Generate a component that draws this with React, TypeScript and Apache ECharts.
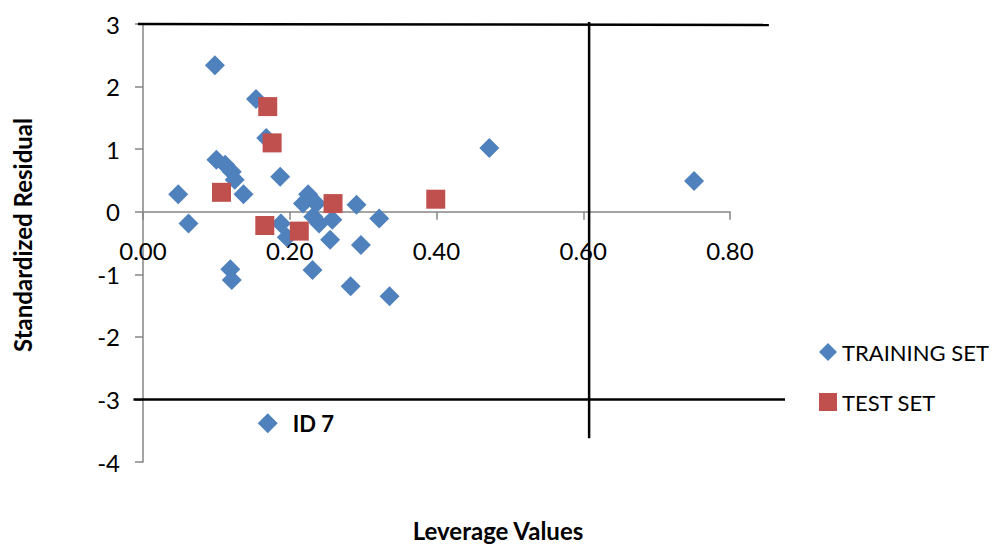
import React, { useEffect, useRef } from "react";
import * as echarts from "echarts";

// Leverage (x) vs standardized residual (y)
const trainingSet: [number, number][] = [
  [0.098, 2.34], [0.154, 1.8], [0.168, 1.18], [0.1, 0.83], [0.112, 0.75],
  [0.121, 0.64], [0.125, 0.51], [0.137, 0.28], [0.048, 0.28], [0.187, 0.56],
  [0.225, 0.28], [0.218, 0.13], [0.236, 0.13], [0.232, -0.08], [0.24, -0.19],
  [0.258, -0.13], [0.062, -0.19], [0.188, -0.19], [0.196, -0.41], [0.255, -0.45],
  [0.291, 0.11], [0.297, -0.53], [0.322, -0.11], [0.119, -0.92], [0.121, -1.09],
  [0.231, -0.93], [0.283, -1.19], [0.336, -1.35], [0.472, 1.02], [0.751, 0.49],
  [0.17, -3.38],
];
const testSet: [number, number][] = [
  [0.17, 1.68], [0.176, 1.1], [0.107, 0.31], [0.166, -0.22], [0.213, -0.31],
  [0.259, 0.13], [0.399, 0.2],
];
const annotatedIndex = 30;
const annotationText = "ID 7";

// reference lines (data coordinates of their end points)
const upperLimit: [number, number][] = [[-0.007, 3.0], [0.853, 2.985]];
const lowerLimit: [number, number][] = [[-0.013, -3.0], [0.875, -3.0]];
const leverageLimit: [number, number][] = [[0.608, 3.03], [0.608, -3.62]];

const seriesNames = ["TRAINING SET", "TEST SET"];
const xAxisTitle = "Leverage Values";
const yAxisTitle = "Standardized Residual";

const FONT = "Lato, 'Open Sans', sans-serif";

const GRID_TOP = 24;
const GRID_BOTTOM = 83;
const CHART_H = 545;
const Y_MIN = -4;
const Y_MAX = 3;

export default function App() {
  const ref = useRef<HTMLDivElement>(null);
  useEffect(() => {
    if (!ref.current) return;
    const chart = echarts.init(ref.current, undefined, { renderer: "svg" });
    const gridH = CHART_H - GRID_TOP - GRID_BOTTOM;
    // move the x axis up so it sits on y = 0
    const xAxisOffset = -(gridH * (0 - Y_MIN)) / (Y_MAX - Y_MIN);
    const titles = [
      {
        type: "text",
        x: 22,
        y: 235,
        rotation: Math.PI / 2,
        style: {
          text: yAxisTitle,
          fontSize: 24,
          fontWeight: "bold",
          fontFamily: FONT,
          fill: "#000",
          align: "center",
          verticalAlign: "middle",
        },
      },
      {
        type: "text",
        x: 498,
        y: 530,
        style: {
          text: xAxisTitle,
          fontSize: 24,
          fontWeight: "bold",
          fontFamily: FONT,
          fill: "#000",
          align: "center",
          verticalAlign: "middle",
        },
      },
    ];
    chart.setOption({
      animation: false,
      textStyle: { fontFamily: FONT },
      grid: { left: 143, top: GRID_TOP, right: 263, bottom: GRID_BOTTOM, containLabel: false },
      xAxis: {
        type: "value",
        min: 0,
        max: 0.8,
        interval: 0.2,
        position: "bottom",
        offset: xAxisOffset,
        axisLine: { onZero: false, lineStyle: { color: "#868686", width: 1.5 } },
        axisTick: { show: true, length: 8, lineStyle: { color: "#868686", width: 1.5 } },
        axisLabel: {
          margin: 27,
          color: "#000",
          fontSize: 24,
          fontFamily: FONT,
          formatter: (v: number) => v.toFixed(2),
        },
        splitLine: { show: false },
      },
      yAxis: {
        type: "value",
        min: Y_MIN,
        max: Y_MAX,
        interval: 1,
        axisLine: { show: true, onZero: false, lineStyle: { color: "#868686", width: 1.5 } },
        axisTick: { show: true, length: 8, lineStyle: { color: "#868686", width: 1.5 } },
        axisLabel: { margin: 23, color: "#000", fontSize: 24, fontFamily: FONT },
        splitLine: { show: false },
      },
      legend: {
        data: [
          { name: seriesNames[0], icon: "diamond" },
          { name: seriesNames[1], icon: "rect" },
        ],
        orient: "vertical",
        left: 814,
        top: 336,
        itemWidth: 18,
        itemHeight: 18,
        itemGap: 28,
        textStyle: { color: "#000", fontSize: 22, fontFamily: FONT },
      },
      graphic: titles,
      series: [
        {
          name: seriesNames[0],
          type: "scatter",
          symbol: "diamond",
          symbolSize: 20,
          z: 3,
          itemStyle: { color: "#4F81BD", opacity: 1 },
          data: trainingSet.map((p, i) =>
            i === annotatedIndex
              ? {
                  value: p,
                  label: {
                    show: true,
                    position: "right",
                    distance: 15,
                    formatter: annotationText,
                    color: "#000",
                    fontSize: 22,
                    fontWeight: "bold",
                    fontFamily: FONT,
                  },
                }
              : p
          ),
        },
        {
          name: seriesNames[1],
          type: "scatter",
          symbol: "rect",
          symbolSize: 19,
          z: 4,
          itemStyle: { color: "#C0504D", opacity: 1 },
          data: testSet,
        },
      ],
    });
    // reference lines drawn through the chart's own scales (they run past the axis end)
    const toPx = (p: [number, number]) => chart.convertToPixel({ gridIndex: 0 }, p) as number[];
    const refLine = (pts: [number, number][]) => {
      const a = toPx(pts[0]);
      const b = toPx(pts[1]);
      return {
        type: "line",
        silent: true,
        z: 1,
        shape: { x1: a[0], y1: a[1], x2: b[0], y2: b[1] },
        style: { stroke: "#000", lineWidth: 2.5 },
      };
    };
    chart.setOption({
      graphic: [...titles, refLine(upperLimit), refLine(lowerLimit), refLine(leverageLimit)],
    });
    return () => chart.dispose();
  }, []);
  return <div ref={ref} style={{ width: 993, height: 545, position: "absolute", left: 0, top: 0 }} />;
}
